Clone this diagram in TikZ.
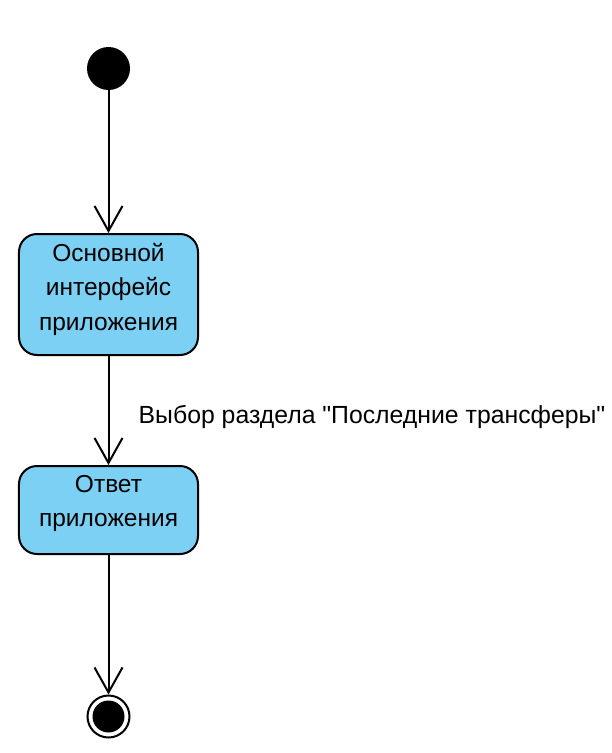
\documentclass[tikz,border=0pt]{standalone}
\usepackage{fontspec}
\newfontfamily\uifont{Liberation Sans}
\usetikzlibrary{arrows.meta}
\definecolor{statefill}{RGB}{124,208,244}
\begin{document}
\begin{tikzpicture}[x=1bp,y=-1bp,
  statebox/.style={draw=black, line width=2bp, fill=statefill, rounded corners=18bp,
    minimum width=179bp, inner sep=0pt, align=center,
    font=\uifont\fontsize{24.5bp}{34.5bp}\selectfont},
  trans/.style={draw=black, line width=2bp,
    -{Straight Barb[length=25bp,width=28bp,line width=2bp]}},
  lbl/.style={inner sep=0pt, anchor=base west,
    font=\uifont\fontsize{24.8bp}{34.5bp}\selectfont},
  initst/.style={circle, fill=black, minimum size=43bp, inner sep=0pt},
  finalst/.style={circle, draw=black, fill=white, line width=2bp, minimum size=42bp, inner sep=0pt},
  finaldot/.style={circle, fill=black, minimum size=32bp, inner sep=0pt}]
\useasboundingbox (0,0) rectangle (612,753);
\node[initst] (start) at (108.5,68.5) {};
\node[statebox, minimum height=121bp] (s1) at (108.5,294.5)
  {\rule{0pt}{22bp}Основной\\интерфейс\\приложения\rule[-20bp]{0pt}{20bp}};
\node[statebox, minimum height=88bp] (s2) at (108.5,510)
  {\rule{0pt}{20bp}Ответ\\приложения\rule[-21.5bp]{0pt}{21.5bp}};
\node[finalst] (end) at (108.5,716.5) {};
\node[finaldot] (enddot) at (end.center) {};
\node[lbl] (t1) at (138.5,423) {Выбор раздела "Последние трансферы"};
\draw[trans] (start) -- (s1);
\draw[trans] (s1) -- (s2);
\draw[trans] (s2) -- (end);
\end{tikzpicture}
\end{document}
